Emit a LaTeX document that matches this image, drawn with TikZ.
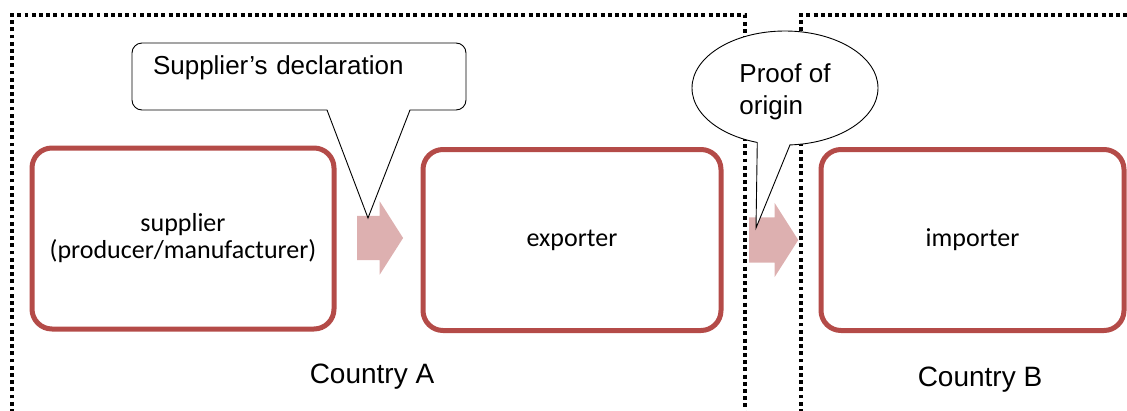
\documentclass[tikz,border=0pt]{standalone}
\usepackage{fontspec}
\setmainfont{Liberation Sans}
\newfontfamily\boxfont{Carlito}
\usetikzlibrary{shapes, shapes.arrows, shapes.geometric, positioning}
\definecolor{PartyRed}{RGB}{180,75,72}
\definecolor{FlowPink}{RGB}{221,176,176}

\begin{document}
\begin{tikzpicture}[x=1pt, y=-1pt,
    party/.style={draw=PartyRed, line width=5pt, rounded corners=20pt, minimum height=181pt, align=center, outer sep=0pt, font=\boxfont\fontsize{26}{27}\selectfont},
    flow/.style={single arrow, fill=FlowPink, inner xsep=0pt, inner ysep=22pt, outer sep=0pt, minimum height=46pt, single arrow head extend=14.5pt, single arrow tip angle=115},
    border/.style={line width=4.4pt, dash pattern=on 3.9pt off 3.3pt},
    bubble/.style={draw=black, line width=0.9pt, fill=white, outer sep=0pt, font=\fontsize{26}{32}\selectfont},
    country/.style={anchor=base, font=\fontsize{28}{30}\selectfont}]
    \useasboundingbox (0,0) rectangle (1127,410);

    \node[party, minimum width=302pt] (supplier) at (183,238.5) {supplier\\(producer/manufacturer)};
    \node[party, minimum width=298pt] (exporter) at (572,240) {exporter};
    \node[party, minimum width=303pt] (importer) at (972.5,240) {importer};

    \node[flow] (flowA) at (373,238) {};
    \node[flow, minimum height=49pt, inner ysep=22.5pt] (flowB) at (766.5,240) {};

    \draw[border] (12,420) -- (12,15) -- (745,15) -- (745,420);
    \draw[border] (801,420) -- (801,15) -- (1135,15);

    \node[bubble, rounded corners=10pt, anchor=north west, text width=292pt, inner xsep=21pt, inner ysep=0pt, text height=31pt, text depth=36pt, align=left] (decl) at (132,43) {Supplier’s declaration};
    \coordinate (declTip) at (368,218);
    \coordinate (declL) at (327,110);
    \coordinate (declR) at (410,110);
    \fill[white] ([yshift=1.5pt]declL) -- (declTip) -- ([yshift=1.5pt]declR) -- cycle;
    \draw[line width=0.9pt] (declL) -- (declTip) -- (declR);

    \node[bubble, ellipse, minimum width=186pt, minimum height=114pt, inner sep=0pt, align=left] (proof) at (785,88) {\rule{0pt}{27pt}Proof of\\origin};
    \coordinate (proofTip) at (756,228);
    \fill[white] ([yshift=1.5pt]proof.243) -- (proofTip) -- ([yshift=1.5pt]proof.275) -- cycle;
    \draw[line width=0.9pt] (proof.243) -- (proofTip) -- (proof.275);

    \node[country] (countryA) at (372,383) {Country A};
    \node[country] (countryB) at (980,386) {Country B};
\end{tikzpicture}
\end{document}
